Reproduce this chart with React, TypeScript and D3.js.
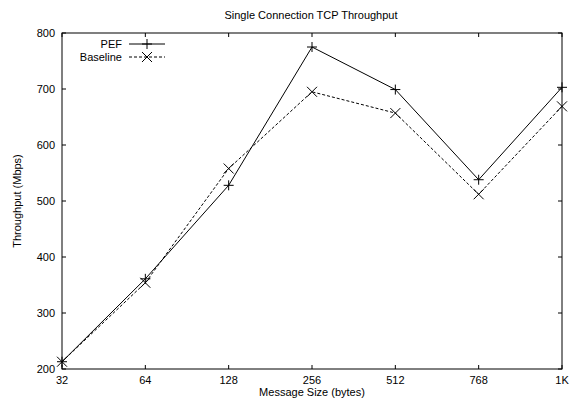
import React from "react";
import * as d3 from "d3";

const categories = ["32", "64", "128", "256", "512", "768", "1K"];
const pefValues = [213, 361, 528, 775, 699, 538, 703];
const baselineValues = [213, 354, 558, 695, 657, 512, 669];
const yTicks = [200, 300, 400, 500, 600, 700, 800];

const W = 572, H = 403;
const M = { left: 62, right: 10, top: 33, bottom: 34 };
const FONT = "'Liberation Sans', Arial, Helvetica, sans-serif";

export default function App() {
  const x = d3.scalePoint<string>().domain(categories).range([M.left, W - M.right]);
  const y = d3.scaleLinear().domain([200, 800]).range([H - M.bottom, M.top]);
  const line = d3.line<number>().x((_, i) => x(categories[i])!).y((v) => y(v));
  const x0 = M.left, x1 = W - M.right, y0 = H - M.bottom, y1 = M.top;
  const tl = 4;
  const plus = (cx: number, cy: number, k: string) => (
    <path key={k} d={`M${cx - 5},${cy}H${cx + 5}M${cx},${cy - 5}V${cy + 5}`} stroke="#000" strokeWidth={1} fill="none" />
  );
  const cross = (cx: number, cy: number, k: string) => (
    <path key={k} d={`M${cx - 5},${cy - 5}L${cx + 5},${cy + 5}M${cx - 5},${cy + 5}L${cx + 5},${cy - 5}`} stroke="#000" strokeWidth={1} fill="none" />
  );
  return (
    <svg width={W} height={H} style={{ position: "absolute", left: 0, top: 0, background: "#fff" }} fontFamily={FONT}>
      <rect width={W} height={H} fill="#fff" />
      <text x={(x0 + x1) / 2 - 1} y={19} textAnchor="middle" fontSize={11}>Single Connection TCP Throughput</text>
      {yTicks.map((t) => (
        <g key={t}>
          <line x1={x0} x2={x0 + tl} y1={y(t)} y2={y(t)} stroke="#000" />
          <line x1={x1} x2={x1 - tl} y1={y(t)} y2={y(t)} stroke="#000" />
          <text x={x0 - 7} y={y(t) + 4} textAnchor="end" fontSize={11}>{t}</text>
        </g>
      ))}
      {categories.map((c) => (
        <g key={c}>
          <line x1={x(c)} x2={x(c)} y1={y0} y2={y0 - tl} stroke="#000" />
          <line x1={x(c)} x2={x(c)} y1={y1} y2={y1 + tl} stroke="#000" />
          <text x={x(c)} y={y0 + 15} textAnchor="middle" fontSize={11}>{c}</text>
        </g>
      ))}
      <rect x={x0} y={y1} width={x1 - x0} height={y0 - y1} fill="none" stroke="#000" strokeWidth={1} />
      <text x={(x0 + x1) / 2} y={H - 7} textAnchor="middle" fontSize={11}>Message Size (bytes)</text>
      <text transform={`translate(21,${(y0 + y1) / 2}) rotate(-90)`} textAnchor="middle" fontSize={11}>Throughput (Mbps)</text>
      <path d={line(pefValues)!} fill="none" stroke="#000" strokeWidth={1} />
      <path d={line(baselineValues)!} fill="none" stroke="#000" strokeWidth={1} strokeDasharray="3,2" />
      {pefValues.map((v, i) => plus(x(categories[i])!, y(v), "p" + i))}
      {baselineValues.map((v, i) => cross(x(categories[i])!, y(v), "b" + i))}
      <text x={122} y={48} textAnchor="end" fontSize={11}>PEF</text>
      <line x1={129} x2={165} y1={44} y2={44} stroke="#000" />
      {plus(147, 44, "lp")}
      <text x={122} y={61} textAnchor="end" fontSize={11}>Baseline</text>
      <line x1={129} x2={165} y1={57} y2={57} stroke="#000" strokeDasharray="3,2" />
      {cross(147, 57, "lb")}
    </svg>
  );
}
